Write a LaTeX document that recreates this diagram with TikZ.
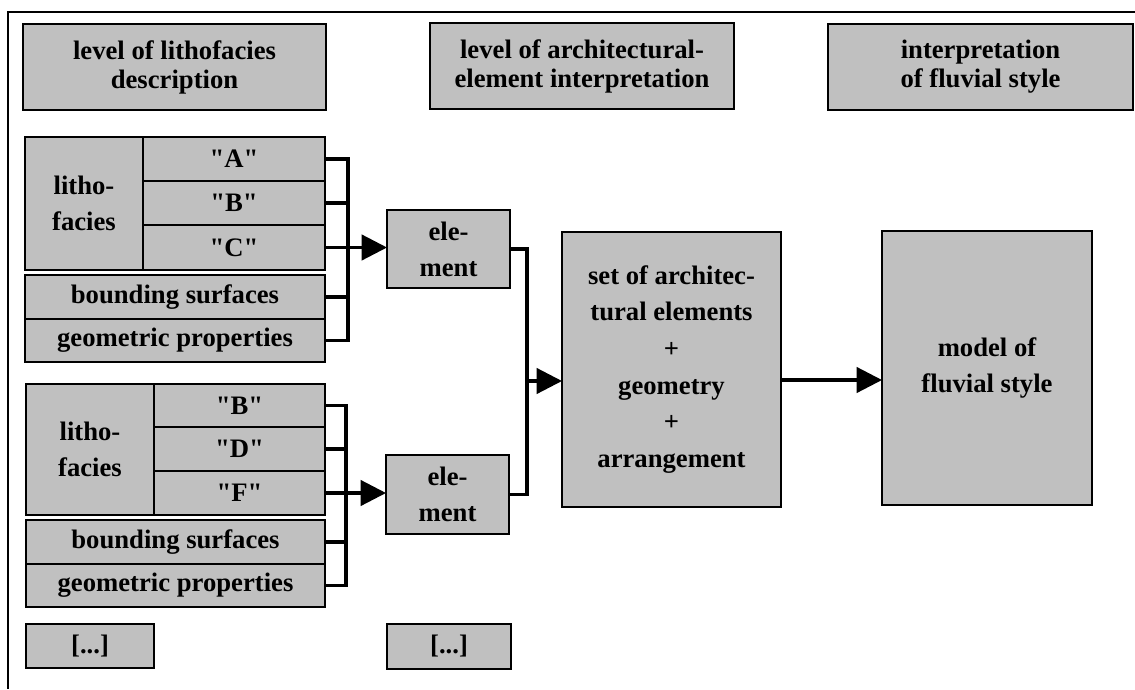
\documentclass[tikz,border=0pt]{standalone}
\usepackage{fontspec}
\setmainfont{Liberation Serif}
\usetikzlibrary{arrows.meta}
\definecolor{boxgray}{RGB}{192,192,192}
\tikzset{
  box/.style={draw=black, line width=1.4pt, fill=boxgray, inner sep=0pt, outer sep=0pt,
    align=center, font=\bfseries\fontsize{20}{27}\selectfont},
  head/.style={box, font=\bfseries\fontsize{20}{21.75}\selectfont},
  setbox/.style={box, font=\bfseries\fontsize{20}{27.5}\selectfont},
  wire/.style={line width=2.4pt},
  arr/.style={wire, -{Triangle[length=19pt,width=19pt]}},
  frame/.style={line width=1.6pt}
}
% #1 style, #2 name, #3 x1, #4 y1, #5 x2, #6 y2, #7 text
\newcommand\mkbox[7][box]{%
  \node[#1, minimum width={(#5-#3)*0.75pt}, minimum height={(#6-#4)*0.75pt}]
    (#2) at ({(#3+#5)/2},{(#4+#6)/2}) {#7};}
\begin{document}
\begin{tikzpicture}[x=0.75pt,y=-0.75pt]
\useasboundingbox (0,0) rectangle (1135,689);
% frame
\coordinate (frTR) at (1135,12);
\coordinate (frTL) at (8,12);
\coordinate (frBL) at (8,689);
\draw[frame] (frTR) -- (frTL) -- (frBL);
% headers
\mkbox[head]{H1}{23}{24}{326}{110}{level of lithofacies\\description}
\mkbox[head]{H2}{430}{23}{734}{109}{level of architectural-\\element interpretation}
\mkbox[head]{H3}{828}{24}{1133}{110}{interpretation\\of fluvial style}
% block 1
\mkbox{L1}{25}{137}{143}{270}{litho-\\facies}
\mkbox{A}{143}{137}{325}{181}{\textquotedbl A\textquotedbl}
\mkbox{B}{143}{181}{325}{225}{\textquotedbl B\textquotedbl}
\mkbox{C}{143}{225}{325}{270}{\textquotedbl C\textquotedbl}
\mkbox{BS1}{25}{275}{325}{319}{bounding surfaces}
\mkbox{GP1}{25}{319}{325}{362}{geometric properties}
% block 2
\mkbox{L2}{26}{384}{154}{515}{litho-\\facies}
\mkbox{B2}{154}{384}{325}{427}{\textquotedbl B\textquotedbl}
\mkbox{D}{154}{427}{325}{471}{\textquotedbl D\textquotedbl}
\mkbox{F}{154}{471}{325}{515}{\textquotedbl F\textquotedbl}
\mkbox{BS2}{26}{520}{325}{564}{bounding surfaces}
\mkbox{GP2}{26}{564}{325}{607}{geometric properties}
% dots
\mkbox{dots1}{26}{624}{154}{668}{[...]}
\mkbox{dots2}{387}{624}{511}{669}{[...]}
% elements
\mkbox{E1}{387}{210}{510}{288}{ele-\\ment}
\mkbox{E2}{386}{455}{509}{534}{ele-\\ment}
\mkbox[setbox]{SET}{562}{232}{781}{507}{set of architec-\\tural elements\\+\\geometry\\+\\arrangement}
\mkbox{MODEL}{882}{231}{1092}{505}{model of\\fluvial style}
% bus coordinates
\coordinate (bus1) at (348,0);
\coordinate (bus2) at (346,0);
\coordinate (bus3) at (527,0);
\coordinate (ya) at (0,381);
\coordinate (yb) at (0,380);
% connectors block 1
\foreach \n in {A,B,C,BS1,GP1}
  \draw[wire] (\n.east) -- (\n.east -| bus1);
\draw[wire, line cap=rect] (A.east -| bus1) -- (GP1.east -| bus1);
\draw[arr] (C.east -| bus1) -- (E1.west |- C.east);
% connectors block 2
\foreach \n in {B2,D,F,BS2,GP2}
  \draw[wire] (\n.east) -- (\n.east -| bus2);
\draw[wire, line cap=rect] (B2.east -| bus2) -- (GP2.east -| bus2);
\draw[arr] (F.east -| bus2) -- (E2.west |- F.east);
% elements to set
\draw[wire, line join=miter] (E1.east) -- (E1.east -| bus3) -- (E2.east -| bus3) -- (E2.east);
\draw[arr] (bus3 |- ya) -- (SET.west |- ya);
% set to model
\draw[arr] (SET.east |- yb) -- (MODEL.west |- yb);
\end{tikzpicture}
\end{document}
